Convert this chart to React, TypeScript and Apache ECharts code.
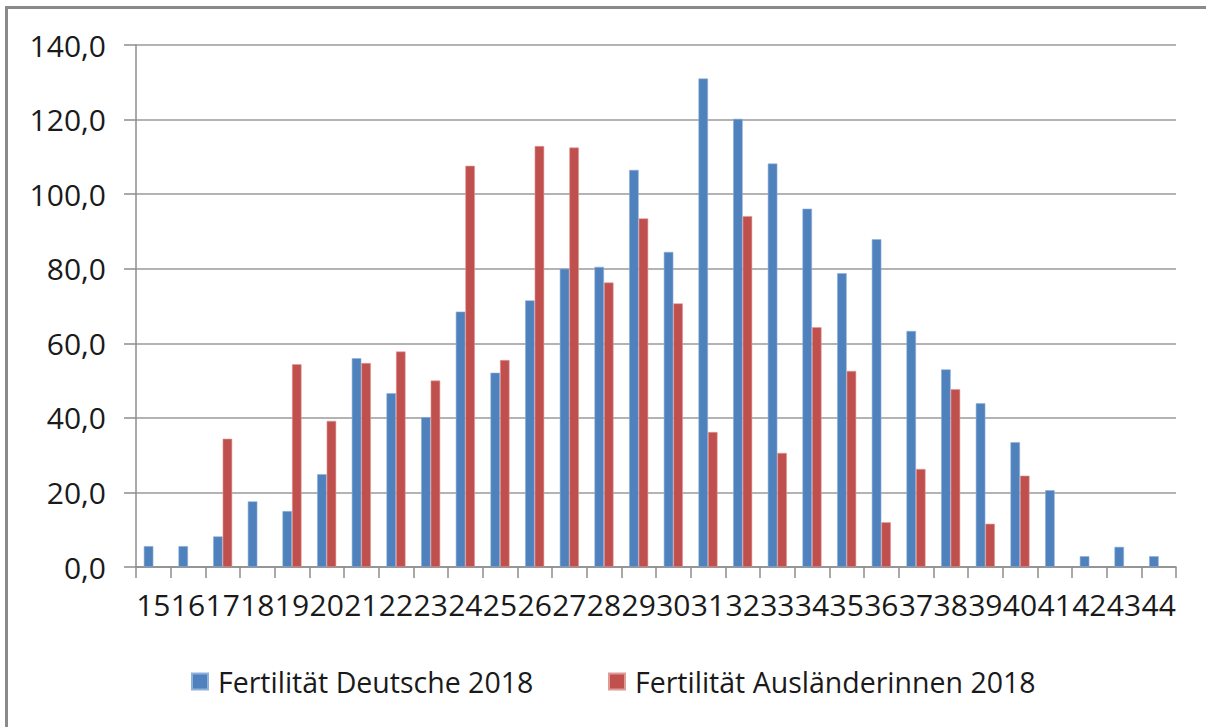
import React, { useEffect, useRef } from "react";
import * as echarts from "echarts";

const categories = [
  "15","16","17","18","19","20","21","22","23","24","25","26","27","28","29",
  "30","31","32","33","34","35","36","37","38","39","40","41","42","43","44",
];
const deutsche = [
  5.6, 5.6, 8.2, 17.6, 15.0, 24.9, 56.0, 46.6, 40.2, 68.5, 52.1, 71.5, 80.0, 80.5, 106.5,
  84.5, 131.0, 120.2, 108.2, 96.1, 78.8, 87.9, 63.3, 53.0, 43.9, 33.5, 20.6, 2.9, 5.4, 2.9,
];
const auslaenderinnen = [
  null, null, 34.4, null, 54.4, 39.2, 54.7, 57.8, 50.0, 107.6, 55.5, 112.9, 112.5, 76.3, 93.5,
  70.7, 36.2, 94.1, 30.6, 64.3, 52.6, 12.0, 26.3, 47.7, 11.6, 24.5, null, null, null, null,
];
const seriesNames = ["Fertilität Deutsche 2018", "Fertilität Ausländerinnen 2018"];

const FONT = "'Open Sans', sans-serif";

export default function App() {
  const ref = useRef<HTMLDivElement>(null);
  useEffect(() => {
    if (!ref.current) return;
    const chart = echarts.init(ref.current, null, { renderer: "svg" });
    chart.setOption({
      animation: false,
      backgroundColor: "#ffffff",
      grid: { left: 136, right: 30, top: 45, bottom: 160, containLabel: false },
      legend: [
        {
          data: [seriesNames[0]],
          left: 186,
          top: 662,
          itemWidth: 16,
          itemHeight: 16,
          icon: "rect",
          textStyle: { fontFamily: FONT, fontSize: 28.5, color: "#1a1a1a", padding: [0, 0, 0, 5] },
        },
        {
          data: [seriesNames[1]],
          left: 603,
          top: 662,
          itemWidth: 16,
          itemHeight: 16,
          icon: "rect",
          textStyle: { fontFamily: FONT, fontSize: 28.5, color: "#1a1a1a", padding: [0, 0, 0, 5] },
        },
      ],
      graphic: [
        {
          type: "line",
          shape: { x1: 5, y1: 7.5, x2: 1206, y2: 7.5 },
          style: { stroke: "#8a8a8a", lineWidth: 3 },
        },
        {
          type: "line",
          shape: { x1: 6.5, y1: 6, x2: 6.5, y2: 727 },
          style: { stroke: "#8a8a8a", lineWidth: 3 },
        },
      ],
      xAxis: {
        type: "category",
        data: categories,
        boundaryGap: true,
        axisLine: { show: true, lineStyle: { color: "#8c8c8c", width: 1.5 } },
        axisTick: { show: true, length: 11, lineStyle: { color: "#8c8c8c", width: 1.5 } },
        axisLabel: {
          interval: 0,
          margin: 22,
          fontFamily: FONT,
          fontSize: 30,
          color: "#1a1a1a",
        },
        splitLine: { show: false },
      },
      yAxis: {
        type: "value",
        min: 0,
        max: 140,
        interval: 20,
        axisLine: { show: true, lineStyle: { color: "#8c8c8c", width: 1.5 } },
        axisTick: { show: true, length: 12, lineStyle: { color: "#8c8c8c", width: 1.5 } },
        axisLabel: {
          margin: 30,
          fontFamily: FONT,
          fontSize: 30,
          color: "#1a1a1a",
          formatter: (v: number) => v.toFixed(1).replace(".", ","),
        },
        splitLine: { show: true, lineStyle: { color: "#9a9a9a", width: 1.5 } },
      },
      series: [
        {
          name: seriesNames[0],
          type: "bar",
          data: deutsche,
          barGap: "0%",
          barCategoryGap: "45%",
          itemStyle: { color: "#4F81BD", borderColor: "#8fb0da", borderWidth: 0.6 },
        },
        {
          name: seriesNames[1],
          type: "bar",
          data: auslaenderinnen,
          barGap: "0%",
          barCategoryGap: "45%",
          itemStyle: { color: "#C0504D", borderColor: "#e09a98", borderWidth: 0.6 },
        },
      ],
    });
    return () => chart.dispose();
  }, []);
  return (
    <div
      ref={ref}
      style={{ position: "absolute", left: 0, top: 0, width: 1206, height: 727 }}
    />
  );
}
